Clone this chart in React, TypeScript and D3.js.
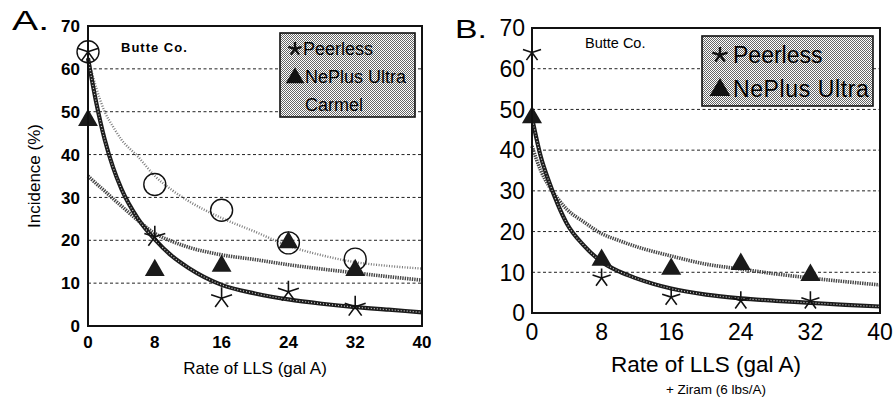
import React, { ReactElement, useEffect, useRef } from "react";
import * as d3 from "d3";

const rates = [0, 8, 16, 24, 32];
const xTicks = [0, 8, 16, 24, 32, 40];
const yTicks = [0, 10, 20, 30, 40, 50, 60, 70];
const gridTicks = [10, 20, 30, 40, 50, 60];

// A. LLS alone
const aPeerless = [64, 20.8, 6.5, 8, 4.5];
const aNePlus = [48, 13, 14, 19.5, 13];
const aCarmel = [64, 33, 27, 19.4, 15.6];

// fitted curves
const fitRates = [0, 1, 2, 3, 4, 6, 8, 10, 12, 16, 20, 24, 28, 32, 36, 40];
const aPeerlessFit = [62.5, 52, 43.5, 37, 32, 25, 20.2, 16.4, 13.6, 9.6, 7.6, 6.2, 5.2, 4.4, 3.8, 3.2];
const aNePlusFit = [35, 33.2, 31.5, 29.7, 28, 24.6, 21.6, 19.8, 18.4, 16.6, 15.5, 14.3, 13.3, 12.4, 11.5, 10.7];
const aCarmelFit = [62.5, 55.5, 50, 46.5, 43.5, 39.5, 35, 31.8, 29.2, 25.2, 22, 18.7, 16.5, 14.9, 14, 13.4];

// B. LLS + Ziram
const bPeerless = [64, 8.6, 3.9, 3, 3];
const bNePlus = [48, 13, 10.8, 12, 9.3];
const bPeerlessFit = [48, 38.5, 32, 26.5, 22, 16.5, 12.6, 10.2, 8.5, 6, 4.5, 3.6, 3, 2.5, 2, 1.6];
const bNePlusFit = [41, 35, 31, 28, 25.5, 22.3, 19.5, 17.8, 16.3, 14, 12, 10.8, 9.6, 8.6, 7.7, 6.9];

const FONT = "'Liberation Sans', Arial, Helvetica, sans-serif";

type Sel = d3.Selection<SVGGElement, unknown, null, undefined>;

const starPath = (r: number) => {
  let p = "";
  for (let k = 0; k < 5; k++) {
    const a = ((-90 + 72 * k) * Math.PI) / 180;
    p += `M0,0L${r * Math.cos(a)},${r * Math.sin(a)}`;
  }
  return p;
};

function drawFit(
  g: Sel,
  line: d3.Line<[number, number]>,
  ys: number[],
  style: string
) {
  const pts = fitRates.map((x, i) => [x, ys[i]] as [number, number]);
  if (style === "bead") {
    g.append("path").attr("d", line(pts)).attr("fill", "none")
      .attr("stroke", "#1c1c1c").attr("stroke-width", 4.2);
    g.append("path").attr("d", line(pts)).attr("fill", "none")
      .attr("stroke", "#cfcfcf").attr("stroke-width", 1.2)
      .attr("stroke-dasharray", "1 2");
  } else if (style === "hatch") {
    g.append("path").attr("d", line(pts)).attr("fill", "none")
      .attr("stroke", "#474747").attr("stroke-width", 3.6)
      .attr("stroke-dasharray", "1.4 1");
  } else {
    g.append("path").attr("d", line(pts)).attr("fill", "none")
      .attr("stroke", "#7a7a7a").attr("stroke-width", 2.4)
      .attr("stroke-dasharray", "1 1.6");
  }
}

function App(): ReactElement {
  const ref = useRef<SVGSVGElement>(null);

  useEffect(() => {
    const svg = d3.select(ref.current);
    svg.selectAll("*").remove();

    const defs = svg.append("defs");
    const pat = defs.append("pattern").attr("id", "stip")
      .attr("width", 2).attr("height", 2).attr("patternUnits", "userSpaceOnUse");
    pat.append("rect").attr("width", 2).attr("height", 2).attr("fill", "#fff");
    pat.append("rect").attr("width", 1).attr("height", 1).attr("fill", "#666");
    pat.append("rect").attr("x", 1).attr("y", 1).attr("width", 1).attr("height", 1).attr("fill", "#666");

    // ---------- panel A ----------
    {
      const g = svg.append("g") as unknown as Sel;
      const x = d3.scaleLinear().domain([0, 40]).range([88, 422]);
      const y = d3.scaleLinear().domain([0, 70]).range([326, 26]);
      const line = d3.line<[number, number]>()
        .x((d) => x(d[0])).y((d) => y(d[1])).curve(d3.curveMonotoneX);

      g.selectAll(".grid").data(gridTicks).enter().append("line")
        .attr("x1", x(0)).attr("x2", x(40))
        .attr("y1", (d) => y(d)).attr("y2", (d) => y(d))
        .attr("stroke", "#222").attr("stroke-width", 1)
        .attr("stroke-dasharray", "3 2.5");

      drawFit(g, line, aCarmelFit, "dots");
      drawFit(g, line, aNePlusFit, "hatch");
      drawFit(g, line, aPeerlessFit, "bead");

      g.selectAll(".carmel").data(aCarmel).enter().append("circle")
        .attr("cx", (_, i) => x(rates[i])).attr("cy", (d) => y(d))
        .attr("r", 11).attr("fill", "none").attr("stroke", "#111").attr("stroke-width", 1.4);
      g.selectAll(".neplus").data(aNePlus).enter().append("path")
        .attr("transform", (d, i) => `translate(${x(rates[i])},${y(d)})`)
        .attr("d", d3.symbol(d3.symbolTriangle, 170)() as string)
        .attr("fill", "#1a1a1a");
      g.selectAll(".peerless").data(aPeerless).enter().append("path")
        .attr("transform", (d, i) => `translate(${x(rates[i])},${y(d)})`)
        .attr("d", starPath(11)).attr("fill", "none")
        .attr("stroke", "#111").attr("stroke-width", 1.6);

      g.append("rect").attr("x", 88).attr("y", 26).attr("width", 334).attr("height", 300)
        .attr("fill", "none").attr("stroke", "#111").attr("stroke-width", 2);

      g.selectAll(".ylab").data(yTicks).enter().append("text")
        .attr("x", 80).attr("y", (d) => y(d)).attr("dy", "0.36em")
        .attr("text-anchor", "end").attr("font-family", FONT)
        .attr("font-size", 17).attr("font-weight", "bold").text((d) => d);
      g.selectAll(".xlab").data(xTicks).enter().append("text")
        .attr("x", (d) => x(d)).attr("y", 348)
        .attr("text-anchor", "middle").attr("font-family", FONT)
        .attr("font-size", 17).attr("font-weight", "bold").text((d) => d);

      g.append("text").attr("x", 255).attr("y", 374).attr("text-anchor", "middle")
        .attr("font-family", FONT).attr("font-size", 17).text("Rate of LLS (gal A)");
      g.append("text").attr("transform", "translate(40,176) rotate(-90)")
        .attr("text-anchor", "middle").attr("font-family", FONT).attr("font-size", 17)
        .text("Incidence (%)");
      g.append("text").attr("transform", "translate(12,30) scale(1.4,1)")
        .attr("font-family", FONT).attr("font-size", 28).text("A.");
      g.append("text").attr("x", 121).attr("y", 52).attr("font-family", FONT)
        .attr("font-size", 13).attr("font-weight", "bold").attr("letter-spacing", 1)
        .text("Butte Co.");

      // legend
      g.append("rect").attr("x", 280).attr("y", 33).attr("width", 135).attr("height", 84)
        .attr("fill", "url(#stip)").attr("stroke", "#111").attr("stroke-width", 1.6);
      g.append("path").attr("transform", "translate(295,49)").attr("d", starPath(7))
        .attr("stroke", "#111").attr("stroke-width", 2.4);
      g.append("path").attr("transform", "translate(295,78)")
        .attr("d", d3.symbol(d3.symbolTriangle, 150)() as string).attr("fill", "#111");
      const legA = [["Peerless", 303, 55], ["NePlus Ultra", 305, 83], ["Carmel", 305, 111]];
      legA.forEach(([t, lx, ly]) => {
        g.append("text").attr("x", lx as number).attr("y", ly as number)
          .attr("font-family", FONT).attr("font-size", 18).text(t as string);
      });
    }

    // ---------- panel B ----------
    {
      const g = svg.append("g") as unknown as Sel;
      const x = d3.scaleLinear().domain([0, 40]).range([532, 880]);
      const y = d3.scaleLinear().domain([0, 70]).range([313, 28]);
      const line = d3.line<[number, number]>()
        .x((d) => x(d[0])).y((d) => y(d[1])).curve(d3.curveMonotoneX);

      g.selectAll(".grid").data(gridTicks).enter().append("line")
        .attr("x1", x(0)).attr("x2", x(40))
        .attr("y1", (d) => y(d)).attr("y2", (d) => y(d))
        .attr("stroke", "#222").attr("stroke-width", 1)
        .attr("stroke-dasharray", "3 2.5");

      drawFit(g, line, bNePlusFit, "hatch");
      drawFit(g, line, bPeerlessFit, "bead");

      g.selectAll(".neplus").data(bNePlus).enter().append("path")
        .attr("transform", (d, i) => `translate(${x(rates[i])},${y(d)})`)
        .attr("d", d3.symbol(d3.symbolTriangle, 175)() as string)
        .attr("fill", "#1a1a1a");
      g.selectAll(".peerless").data(bPeerless).enter().append("path")
        .attr("transform", (d, i) => `translate(${x(rates[i])},${y(d)})`)
        .attr("d", starPath(9.5)).attr("fill", "none")
        .attr("stroke", "#111").attr("stroke-width", 1.6);

      g.append("rect").attr("x", 532).attr("y", 28).attr("width", 348).attr("height", 285)
        .attr("fill", "none").attr("stroke", "#111").attr("stroke-width", 2);

      g.selectAll(".ylab").data(yTicks).enter().append("text")
        .attr("x", 525).attr("y", (d) => y(d)).attr("dy", "0.36em")
        .attr("text-anchor", "end").attr("font-family", FONT)
        .attr("font-size", 23).text((d) => d);
      g.selectAll(".xlab").data(xTicks).enter().append("text")
        .attr("x", (d) => x(d)).attr("y", 340)
        .attr("text-anchor", "middle").attr("font-family", FONT)
        .attr("font-size", 23).text((d) => d);

      g.append("text").attr("x", 706).attr("y", 372).attr("text-anchor", "middle")
        .attr("font-family", FONT).attr("font-size", 22.5).text("Rate of LLS (gal A)");
      g.append("text").attr("x", 716).attr("y", 394).attr("text-anchor", "middle")
        .attr("font-family", FONT).attr("font-size", 13.5).text("+ Ziram (6 lbs/A)");
      g.append("text").attr("transform", "translate(455,38) scale(1.35,1)")
        .attr("font-family", FONT).attr("font-size", 25).text("B.");
      g.append("text").attr("x", 585).attr("y", 48).attr("font-family", FONT)
        .attr("font-size", 14.5).text("Butte Co.");

      // legend
      g.append("rect").attr("x", 702).attr("y", 36).attr("width", 171).attr("height", 70)
        .attr("fill", "url(#stip)").attr("stroke", "#111").attr("stroke-width", 1.6);
      g.append("path").attr("transform", "translate(720,55)").attr("d", starPath(8))
        .attr("stroke", "#111").attr("stroke-width", 2.4);
      g.append("path").attr("transform", "translate(720,90)")
        .attr("d", d3.symbol(d3.symbolTriangle, 190)() as string).attr("fill", "#111");
      g.append("text").attr("x", 733).attr("y", 63).attr("font-family", FONT)
        .attr("font-size", 23).text("Peerless");
      g.append("text").attr("x", 733).attr("y", 97).attr("font-family", FONT)
        .attr("font-size", 23).attr("letter-spacing", 0.6).text("NePlus Ultra");
    }
  });

  return (
    <svg
      ref={ref}
      width={894}
      height={397}
      style={{ position: "absolute", left: 0, top: 0, background: "#fff" }}
    ></svg>
  );
}

export default App;
